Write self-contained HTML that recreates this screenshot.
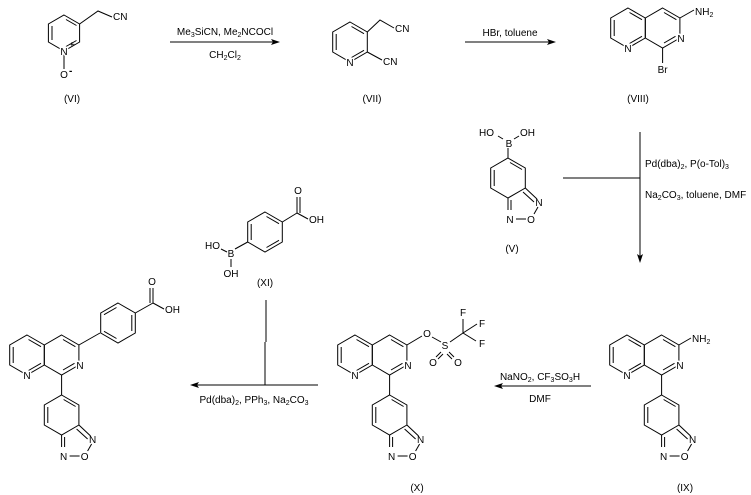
<!DOCTYPE html>
<html><head><meta charset="utf-8"><style>
html,body{margin:0;padding:0;background:#fff;}
svg{display:block;}
text{font-family:"Liberation Sans",Arial,sans-serif;font-size:10px;fill:#000;}
.l{stroke:#000;stroke-width:1;fill:none;}
.lb{paint-order:stroke;stroke:#fff;stroke-width:3px;}
</style></head><body>
<svg width="751" height="495" viewBox="0 0 751 495" xmlns="http://www.w3.org/2000/svg">

<!-- (VI) -->
<g transform="translate(64,33)">
<polygon class="l" points="0,-18 15.6,-9 15.6,9 0,18 -15.6,9 -15.6,-9"/>
<line class="l" x1="-12" y1="-7" x2="-12" y2="7"/><line class="l" x1="2" y1="-13.5" x2="12.5" y2="-7.5"/><line class="l" x1="2" y1="13.5" x2="12.5" y2="7.5"/>
<line class="l" x1="0" y1="18" x2="0" y2="36"/>
<text class="lb" x="0" y="22" text-anchor="middle">N</text><text x="5" y="15" font-size="7">+</text>
<text class="lb" x="0" y="45" text-anchor="middle">O</text><text x="5" y="41" font-size="9" font-weight="bold">-</text>
<polyline class="l" points="15.6,-9 34,-22 48,-16"/>
<text x="49" y="-13">CN</text>
</g>
<text x="72" y="102" text-anchor="middle">(VI)</text>

<!-- arrow 1 -->
<line class="l" x1="170" y1="42" x2="278" y2="42"/><polygon points="280,42 271,39 273,42 271,45" fill="#000"/>
<text x="225" y="35" text-anchor="middle">Me<tspan font-size="7" dy="2">3</tspan><tspan dy="-2">SiCN, Me</tspan><tspan font-size="7" dy="2">2</tspan><tspan dy="-2">NCOCl</tspan></text>
<text x="225" y="58" text-anchor="middle">CH<tspan font-size="7" dy="2">2</tspan><tspan dy="-2">Cl</tspan><tspan font-size="7" dy="2">2</tspan></text>

<!-- (VII) -->
<g transform="translate(350,42)">
<polygon class="l" points="0,-20 17.3,-10 17.3,10 0,20 -17.3,10 -17.3,-10"/>
<line class="l" x1="-13.8" y1="-8" x2="-13.8" y2="8"/><line class="l" x1="1.5" y1="-15.5" x2="14" y2="-8.3"/><line class="l" x1="1.5" y1="15.5" x2="14" y2="8.3"/>
<text class="lb" x="0" y="24" text-anchor="middle">N</text>
<polyline class="l" points="17.3,-10 30,-22 44,-14"/><text x="45" y="-10">CN</text>
<line class="l" x1="17.3" y1="10" x2="32" y2="18"/><text x="33" y="23">CN</text>
</g>
<text x="372" y="102" text-anchor="middle">(VII)</text>

<!-- arrow 2 -->
<line class="l" x1="465" y1="42" x2="553" y2="42"/><polygon points="556,42 547,39 549,42 547,45" fill="#000"/>
<text x="510" y="36" text-anchor="middle">HBr, toluene</text>

<!-- (VIII) -->
<g transform="translate(628,28)">
<polygon class="l" points="0,-20 17.3,-10 17.3,10 0,20 -17.3,10 -17.3,-10"/>
<polygon class="l" points="34.6,-20 51.9,-10 51.9,10 34.6,20 17.3,10 17.3,-10"/>
<line class="l" x1="-13.8" y1="-8" x2="-13.8" y2="8"/><line class="l" x1="1.5" y1="-15.5" x2="14" y2="-8.3"/><line class="l" x1="1.5" y1="15.5" x2="14" y2="8.3"/>
<line class="l" x1="36" y1="-15.5" x2="48.4" y2="-8.3"/><line class="l" x1="47.5" y1="8.3" x2="36" y2="15"/>
<text class="lb" x="0" y="24" text-anchor="middle">N</text><text class="lb" x="53" y="14" text-anchor="middle">N</text>
<line class="l" x1="51.9" y1="-10" x2="66" y2="-18"/><text x="67" y="-13">NH<tspan font-size="7" dy="2">2</tspan></text>
<line class="l" x1="34.6" y1="20" x2="34.6" y2="35"/><text x="34.6" y="45" text-anchor="middle">Br</text>
</g>
<text x="638" y="102" text-anchor="middle">(VIII)</text>

<!-- (V) -->
<g transform="translate(508,158)">
<polygon class="l" points="0,0 17.3,10 17.3,30 0,40 -17.3,30 -17.3,10"/>
<line class="l" x1="-13.8" y1="12" x2="-13.8" y2="28"/><line class="l" x1="2" y1="4.5" x2="14" y2="11.5"/>
<line class="l" x1="17.3" y1="30" x2="29" y2="41"/><line class="l" x1="15" y1="34" x2="26" y2="44"/>
<line class="l" x1="30" y1="49" x2="26" y2="56"/><line class="l" x1="18" y1="61" x2="8" y2="61"/>
<line class="l" x1="0" y1="40" x2="0" y2="52"/><line class="l" x1="3" y1="42" x2="3" y2="52"/>
<text x="31" y="48" text-anchor="middle">N</text><text x="23" y="65" text-anchor="middle">O</text><text x="2" y="65" text-anchor="middle">N</text>
<line class="l" x1="0" y1="0" x2="0" y2="-10"/>
<text x="1" y="-11" text-anchor="middle">B</text>
<line class="l" x1="-5" y1="-19" x2="-10" y2="-22"/><line class="l" x1="6" y1="-19" x2="11" y2="-22"/>
<text x="-14" y="-22" text-anchor="end">HO</text><text x="12" y="-22">OH</text>
</g>
<text x="512" y="252" text-anchor="middle">(V)</text>

<!-- arrow 3 -->
<line class="l" x1="563" y1="178" x2="640" y2="178"/>
<line class="l" x1="640" y1="132" x2="640" y2="258"/><polygon points="640,263 637,254 640,256 643,254" fill="#000"/>
<text x="645" y="167">Pd(dba)<tspan font-size="7" dy="2">2</tspan><tspan dy="-2">, P(o-Tol)</tspan><tspan font-size="7" dy="2">3</tspan></text>
<text x="645" y="198">Na<tspan font-size="7" dy="2">2</tspan><tspan dy="-2">CO</tspan><tspan font-size="7" dy="2">3</tspan><tspan dy="-2">, toluene, DMF</tspan></text>

<!-- (XI) -->
<g transform="translate(265,232)">
<polygon class="l" points="0,-20 17.3,-10 17.3,10 0,20 -17.3,10 -17.3,-10"/>
<line class="l" x1="-13.8" y1="-8" x2="-13.8" y2="8"/><line class="l" x1="1.5" y1="-15.5" x2="14" y2="-8.3"/><line class="l" x1="1.5" y1="15.5" x2="14" y2="8.3"/>
<line class="l" x1="-17.3" y1="10" x2="-30" y2="17"/>
<text x="-34" y="25" text-anchor="middle">B</text>
<line class="l" x1="-38" y1="20" x2="-44" y2="17"/><text x="-45" y="17" text-anchor="end">HO</text>
<line class="l" x1="-34" y1="27" x2="-34" y2="35"/><text x="-34" y="45" text-anchor="middle">OH</text>
<line class="l" x1="17.3" y1="-10" x2="32" y2="-19"/>
<line class="l" x1="32" y1="-19" x2="32" y2="-35"/><line class="l" x1="35" y1="-19" x2="35" y2="-35"/>
<text x="33" y="-38" text-anchor="middle">O</text>
<line class="l" x1="32" y1="-19" x2="43" y2="-13"/><text x="44" y="-9">OH</text>
</g>
<text x="265" y="286" text-anchor="middle">(XI)</text>

<!-- arrow 4 -->
<line class="l" x1="266" y1="300" x2="266" y2="342"/><line class="l" x1="265" y1="342" x2="265" y2="385"/>
<line class="l" x1="195" y1="385" x2="318" y2="385"/><polygon points="190,385 199,382 197,385 199,388" fill="#000"/>
<text x="254" y="403" text-anchor="middle">Pd(dba)<tspan font-size="7" dy="2">2</tspan><tspan dy="-2">, PPh</tspan><tspan font-size="7" dy="2">3</tspan><tspan dy="-2">, Na</tspan><tspan font-size="7" dy="2">2</tspan><tspan dy="-2">CO</tspan><tspan font-size="7" dy="2">3</tspan></text>

<!-- arrow 5 -->
<line class="l" x1="498" y1="386" x2="591" y2="386"/><polygon points="494,386 503,383 501,386 503,389" fill="#000"/>
<text x="540" y="380" text-anchor="middle">NaNO<tspan font-size="7" dy="2">2</tspan><tspan dy="-2">, CF</tspan><tspan font-size="7" dy="2">3</tspan><tspan dy="-2">SO</tspan><tspan font-size="7" dy="2">3</tspan><tspan dy="-2">H</tspan></text>
<text x="540" y="402" text-anchor="middle">DMF</text>

<!-- IX -->
<g transform="translate(627,355)">
<polygon class="l" points="0,-20 17.3,-10 17.3,10 0,20 -17.3,10 -17.3,-10"/>
<polygon class="l" points="34.6,-20 51.9,-10 51.9,10 34.6,20 17.3,10 17.3,-10"/>
<line class="l" x1="-13.8" y1="-8" x2="-13.8" y2="8"/><line class="l" x1="1.5" y1="-15.5" x2="14" y2="-8.3"/><line class="l" x1="1.5" y1="15.5" x2="14" y2="8.3"/>
<line class="l" x1="36" y1="-15.5" x2="48.4" y2="-8.3"/><line class="l" x1="47.5" y1="8.3" x2="36" y2="15"/>
<text class="lb" x="0" y="24" text-anchor="middle">N</text><text class="lb" x="53" y="14" text-anchor="middle">N</text>
<line class="l" x1="51.9" y1="-10" x2="64" y2="-17"/><text x="65" y="-13">NH<tspan font-size="7" dy="2">2</tspan></text>
<line class="l" x1="34.6" y1="20" x2="34.6" y2="40"/>
<g transform="translate(34.6,40)">
<polygon class="l" points="0,0 17.3,10 17.3,30 0,40 -17.3,30 -17.3,10"/>
<line class="l" x1="-13.8" y1="12" x2="-13.8" y2="28"/><line class="l" x1="2" y1="4.5" x2="14" y2="11.5"/>
<line class="l" x1="17.3" y1="30" x2="29" y2="41"/><line class="l" x1="15" y1="34" x2="26" y2="44"/>
<line class="l" x1="30" y1="49" x2="26" y2="56"/><line class="l" x1="18" y1="61" x2="8" y2="61"/>
<line class="l" x1="0" y1="40" x2="0" y2="52"/><line class="l" x1="3" y1="42" x2="3" y2="52"/>
<text x="31" y="48" text-anchor="middle">N</text><text x="23" y="65" text-anchor="middle">O</text><text x="2" y="65" text-anchor="middle">N</text>
</g>
</g>
<text x="685" y="491" text-anchor="middle">(IX)</text>

<!-- X -->
<g transform="translate(355,355)">
<polygon class="l" points="0,-20 17.3,-10 17.3,10 0,20 -17.3,10 -17.3,-10"/>
<polygon class="l" points="34.6,-20 51.9,-10 51.9,10 34.6,20 17.3,10 17.3,-10"/>
<line class="l" x1="-13.8" y1="-8" x2="-13.8" y2="8"/><line class="l" x1="1.5" y1="-15.5" x2="14" y2="-8.3"/><line class="l" x1="1.5" y1="15.5" x2="14" y2="8.3"/>
<line class="l" x1="36" y1="-15.5" x2="48.4" y2="-8.3"/><line class="l" x1="47.5" y1="8.3" x2="36" y2="15"/>
<text class="lb" x="0" y="24" text-anchor="middle">N</text><text class="lb" x="53" y="14" text-anchor="middle">N</text>
<line class="l" x1="51.9" y1="-10" x2="67" y2="-19"/><text x="72" y="-18" text-anchor="middle">O</text>
<line class="l" x1="77" y1="-18" x2="86" y2="-13"/><text x="90" y="-6" text-anchor="middle">S</text>
<line class="l" x1="95" y1="-13" x2="108" y2="-22"/>
<line class="l" x1="86" y1="-3" x2="81" y2="2"/><line class="l" x1="88" y1="-1" x2="83" y2="4"/>
<line class="l" x1="94" y1="-3" x2="99" y2="2"/><line class="l" x1="92" y1="-1" x2="97" y2="4"/>
<text x="78" y="11" text-anchor="middle">O</text><text x="103" y="11" text-anchor="middle">O</text>
<line class="l" x1="108" y1="-22" x2="108" y2="-36"/><line class="l" x1="108" y1="-22" x2="122" y2="-31"/><line class="l" x1="108" y1="-22" x2="121" y2="-14"/>
<text x="108" y="-39" text-anchor="middle">F</text><text x="124" y="-28">F</text><text x="124" y="-8">F</text>
<line class="l" x1="34.6" y1="20" x2="34.6" y2="40"/>
<g transform="translate(34.6,40)">
<polygon class="l" points="0,0 17.3,10 17.3,30 0,40 -17.3,30 -17.3,10"/>
<line class="l" x1="-13.8" y1="12" x2="-13.8" y2="28"/><line class="l" x1="2" y1="4.5" x2="14" y2="11.5"/>
<line class="l" x1="17.3" y1="30" x2="29" y2="41"/><line class="l" x1="15" y1="34" x2="26" y2="44"/>
<line class="l" x1="30" y1="49" x2="26" y2="56"/><line class="l" x1="18" y1="61" x2="8" y2="61"/>
<line class="l" x1="0" y1="40" x2="0" y2="52"/><line class="l" x1="3" y1="42" x2="3" y2="52"/>
<text x="31" y="48" text-anchor="middle">N</text><text x="23" y="65" text-anchor="middle">O</text><text x="2" y="65" text-anchor="middle">N</text>
</g>
</g>
<text x="417" y="491" text-anchor="middle">(X)</text>

<!-- final -->
<g transform="translate(27,355)">
<polygon class="l" points="0,-20 17.3,-10 17.3,10 0,20 -17.3,10 -17.3,-10"/>
<polygon class="l" points="34.6,-20 51.9,-10 51.9,10 34.6,20 17.3,10 17.3,-10"/>
<line class="l" x1="-13.8" y1="-8" x2="-13.8" y2="8"/><line class="l" x1="1.5" y1="-15.5" x2="14" y2="-8.3"/><line class="l" x1="1.5" y1="15.5" x2="14" y2="8.3"/>
<line class="l" x1="36" y1="-15.5" x2="48.4" y2="-8.3"/><line class="l" x1="47.5" y1="8.3" x2="36" y2="15"/>
<text class="lb" x="0" y="24" text-anchor="middle">N</text><text class="lb" x="53" y="14" text-anchor="middle">N</text>
<line class="l" x1="51.9" y1="-10" x2="73" y2="-22"/>
<g transform="translate(91,-32)">
<polygon class="l" points="0,-20 17.3,-10 17.3,10 0,20 -17.3,10 -17.3,-10"/>
<line class="l" x1="13.8" y1="-8" x2="13.8" y2="8"/><line class="l" x1="-1.5" y1="-15.5" x2="-14" y2="-8.3"/><line class="l" x1="-1.5" y1="15.5" x2="-14" y2="8.3"/>
<line class="l" x1="17.3" y1="-10" x2="35" y2="-20"/>
<line class="l" x1="35" y1="-20" x2="35" y2="-35"/><line class="l" x1="32" y1="-20" x2="32" y2="-35"/>
<text x="34" y="-38" text-anchor="middle">O</text>
<line class="l" x1="35" y1="-20" x2="46" y2="-14"/><text x="47" y="-10">OH</text>
</g>
<line class="l" x1="34.6" y1="20" x2="34.6" y2="40"/>
<g transform="translate(34.6,40)">
<polygon class="l" points="0,0 17.3,10 17.3,30 0,40 -17.3,30 -17.3,10"/>
<line class="l" x1="-13.8" y1="12" x2="-13.8" y2="28"/><line class="l" x1="2" y1="4.5" x2="14" y2="11.5"/>
<line class="l" x1="17.3" y1="30" x2="29" y2="41"/><line class="l" x1="15" y1="34" x2="26" y2="44"/>
<line class="l" x1="30" y1="49" x2="26" y2="56"/><line class="l" x1="18" y1="61" x2="8" y2="61"/>
<line class="l" x1="0" y1="40" x2="0" y2="52"/><line class="l" x1="3" y1="42" x2="3" y2="52"/>
<text x="31" y="48" text-anchor="middle">N</text><text x="23" y="65" text-anchor="middle">O</text><text x="2" y="65" text-anchor="middle">N</text>
</g>
</g>

</svg>
</body></html>
